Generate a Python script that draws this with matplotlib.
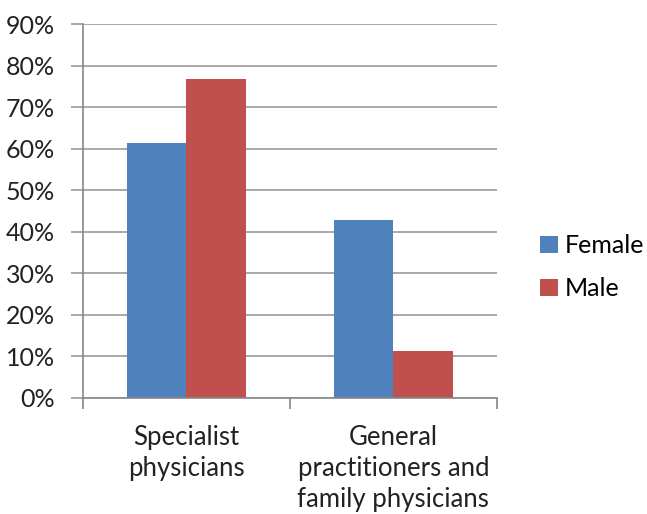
import matplotlib.pyplot as plt
import numpy as np
from matplotlib.ticker import PercentFormatter

categories = ["Specialist\nphysicians", "General\npractitioners and\nfamily physicians"]
female = [61.3, 42.8]
male = [76.7, 11.3]
yticks = [0, 10, 20, 30, 40, 50, 60, 70, 80, 90]

plt.rcParams['font.family'] = ['Lato', 'DejaVu Sans']

fig = plt.figure(figsize=(6.47, 5.14), dpi=100)
ax = fig.add_axes([0.128, 0.2263, 0.64, 0.7264])

x = np.arange(len(categories))
width = 0.286
ax.bar(x - width / 2, female, width, color="#4F81BD", label="Female")
ax.bar(x + width / 2, male, width, color="#C0504D", label="Male")

ax.set_xlim(-0.5, 1.5)
ax.set_ylim(0, 90)
ax.set_yticks(yticks)
ax.yaxis.set_major_formatter(PercentFormatter(decimals=0))
ax.yaxis.grid(True, color="#999999", linewidth=1.2)
ax.set_axisbelow(True)

ax.set_xticks(x)
ax.set_xticklabels(categories, fontsize=18.5, color="#222222", linespacing=1.3)
ax.set_xticks([-0.5, 0.5, 1.5], minor=True)
ax.tick_params(axis="x", which="major", length=0, pad=20)
ax.tick_params(axis="x", which="minor", length=8, color="#888888", width=1.2)
ax.tick_params(axis="y", length=9, color="#999999", width=1.2, labelsize=18,
               labelcolor="#222222", pad=11)

for side in ["top", "right"]:
	ax.spines[side].set_visible(False)
for side in ["left", "bottom"]:
	ax.spines[side].set_color("#888888")
	ax.spines[side].set_linewidth(1.2)

fig.legend(loc="center left", bbox_to_anchor=(0.8, 0.48), frameon=False,
           fontsize=18, handlelength=0.7, handleheight=0.7,
           handletextpad=0.3, labelspacing=0.8)

plt.savefig("out.png", dpi=100)
